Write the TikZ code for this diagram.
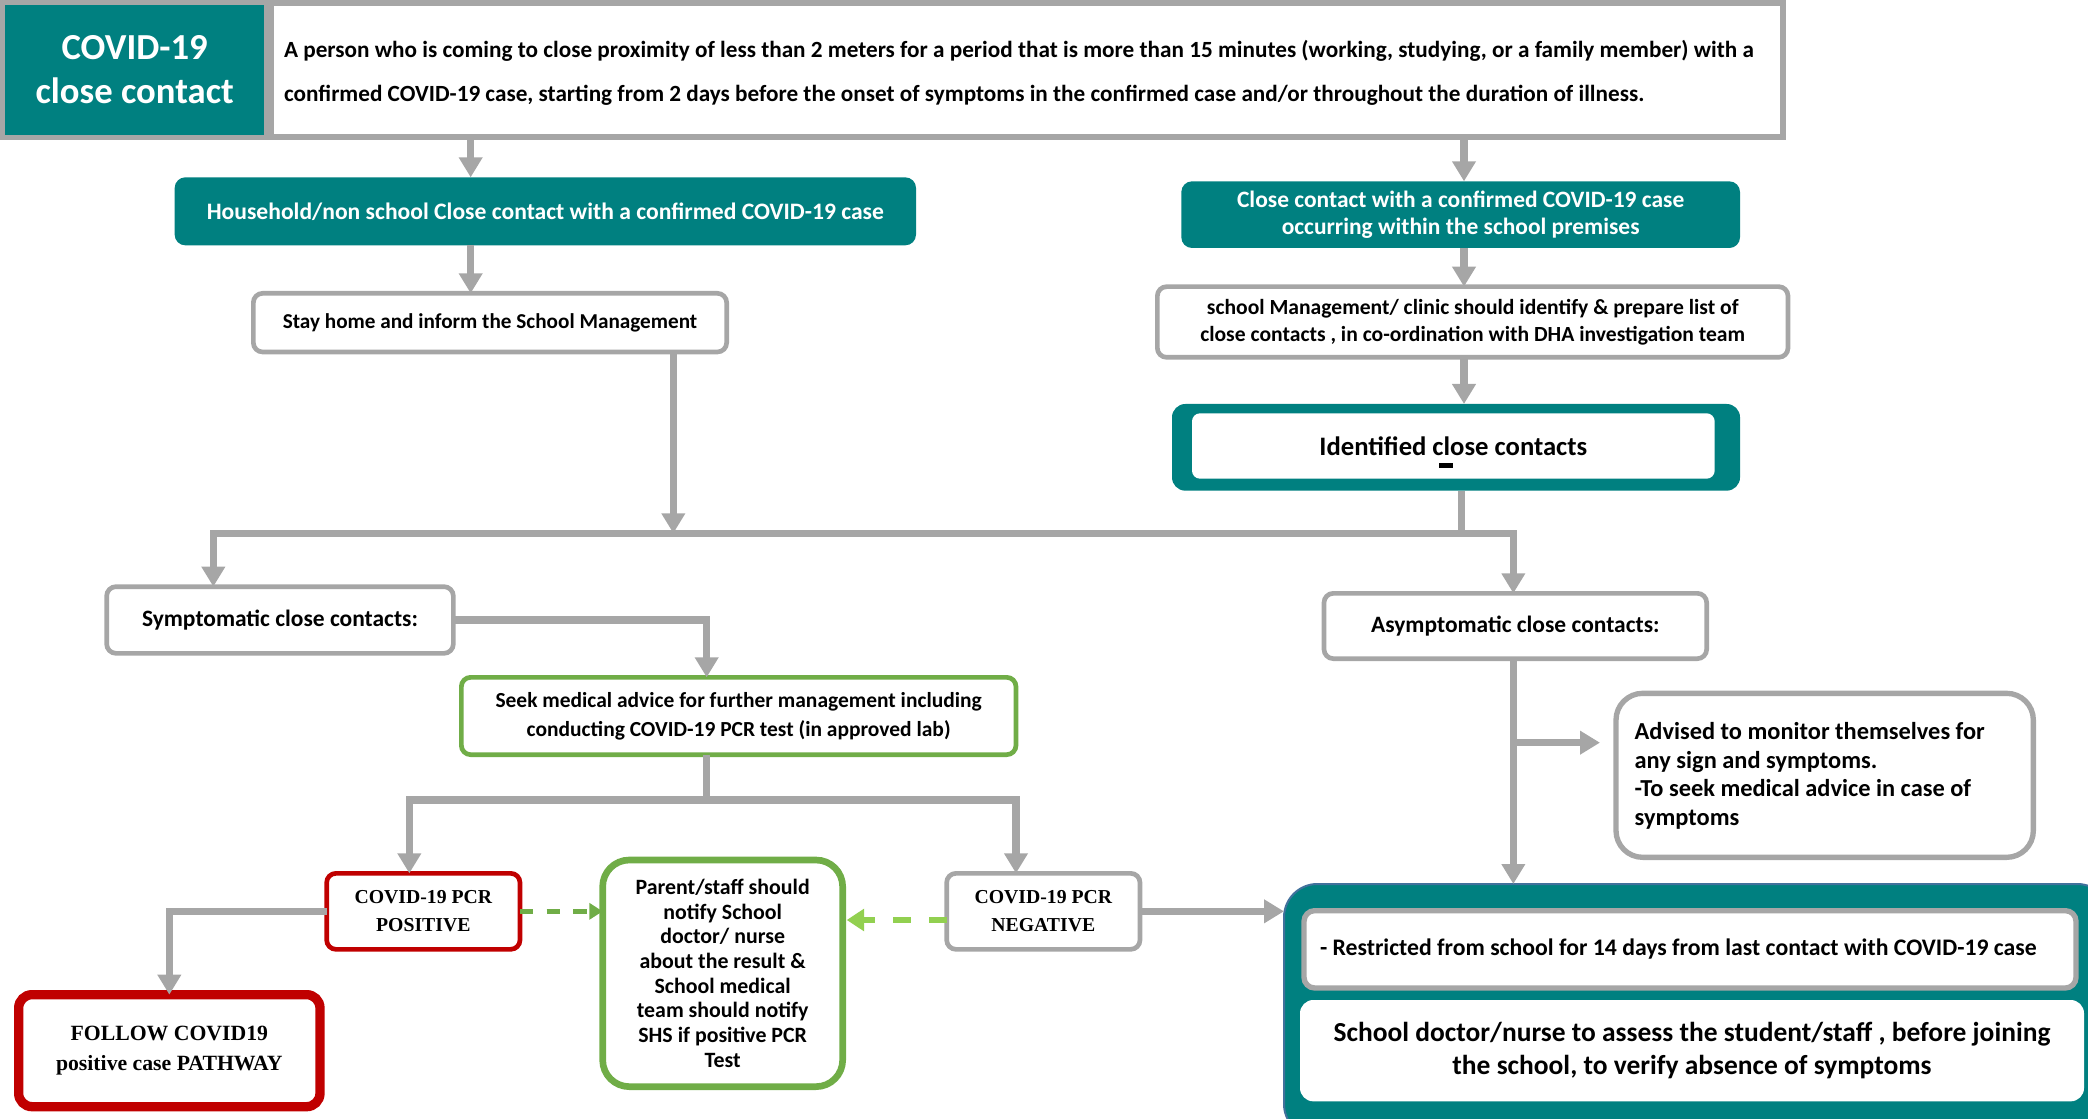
\documentclass[tikz,border=0pt]{standalone}
\usepackage{fontspec}
\setmainfont{Carlito}
\newfontfamily\tnr{Liberation Serif}
\usetikzlibrary{arrows.meta,calc}
\definecolor{tealc}{RGB}{0,128,128}
\definecolor{greyc}{RGB}{166,166,166}
\definecolor{redc}{RGB}{192,0,0}
\definecolor{greenc}{RGB}{112,173,71}
\definecolor{lgreenc}{RGB}{146,208,80}
\definecolor{bluec}{RGB}{65,113,156}
\begin{document}
\begin{tikzpicture}[x=1pt,y=-1pt,
  every node/.style={inner sep=0pt, outer sep=0pt},
  fs/.style n args={2}{font=\bfseries\fontsize{#1}{#2}\selectfont},
  tealbox/.style={fill=tealc, rounded corners=8pt, text=white, align=center},
  gbox/.style={draw=greyc, line width=3.5pt, fill=white, rounded corners=7pt, align=center},
  greenbox/.style={draw=greenc, line width=3.5pt, fill=white, rounded corners=7pt, align=center},
  redbox/.style={draw=redc, line width=3.5pt, fill=white, rounded corners=7pt, align=center},
  arr/.style={draw=greyc, line width=5.5pt, -{Triangle[width=17pt,length=15pt]}},
  dsh/.style={line width=3.8pt, dash pattern=on 10pt off 10pt}
]
\useasboundingbox (0,0) rectangle (1566,839.25);

% header
\node[fill=tealc, draw=greyc, line width=4pt, minimum width=198pt, minimum height=101pt,
  text=white, align=center, fs={27.5}{33}] (title) at (101,52.5) {COVID-19\\close contact};
\node[draw=greyc, line width=4.5pt, fill=white, minimum width=1134pt, minimum height=101pt] (def) at (770,52.5) {};
\node[anchor=west, align=left, fs={17.4}{33}] (deftext) at (213,54.5)
  {A person who is coming to close proximity of less than 2 meters for a period that is more than 15 minutes (working, studying, or a family member) with a\\
   confirmed COVID-19 case, starting from 2 days before the onset of symptoms in the confirmed case and/or throughout the duration of illness.};

% second row
\node[tealbox, minimum width=556pt, minimum height=51pt, fs={17.7}{19}] (house) at (409,158.5)
  {Household/non school Close contact with a confirmed COVID-19 case};
\node[tealbox, minimum width=419pt, minimum height=50pt, fs={17.6}{20}] (school) at (1095.5,161)
  {Close contact with a confirmed COVID-19 case\\occurring within the school premises};

\node[gbox, minimum width=355pt, minimum height=44pt, fs={15.9}{18}] (stay) at (367.5,242)
  {Stay home and inform the School Management};
\node[gbox, minimum width=473pt, minimum height=53pt, fs={16.2}{20}] (list) at (1104.5,241.5)
  {school Management/ clinic should identify \& prepare list of\\close contacts , in co-ordination with DHA investigation team};

% identified
\node[fill=tealc, rounded corners=10pt, minimum width=426pt, minimum height=65pt] (identout) at (1092,335.5) {};
\node[fill=white, rounded corners=6pt, minimum width=392pt, minimum height=49pt, fs={20}{24}] (ident) at (1090,334.5)
  {Identified close contacts};
\node[fill=black, minimum width=11pt, minimum height=4pt] (dashmark) at (1084.5,349) {};

% symptomatic branch
\node[gbox, minimum width=260pt, minimum height=50pt, fs={17.6}{18}] (sym) at (210,465)
  {Symptomatic close contacts:};
\node[greenbox, minimum width=416pt, minimum height=58pt, fs={16.1}{22}] (seek) at (554,537)
  {Seek medical advice for further management including\\conducting COVID-19 PCR test (in approved lab)};
\node[redbox, minimum width=145pt, minimum height=57pt, font=\tnr\bfseries\fontsize{14.8}{21}\selectfont] (pos) at (317.5,683.5)
  {COVID-19 PCR\\POSITIVE};
\node[draw=redc, line width=7pt, fill=white, rounded corners=10pt, minimum width=226pt, minimum height=84pt,
  align=center, font=\tnr\bfseries\fontsize{16.3}{23}\selectfont] (follow) at (127,788)
  {FOLLOW COVID19\\positive case PATHWAY};
\node[draw=greenc, line width=5pt, fill=white, rounded corners=20pt, minimum width=180pt, minimum height=170pt,
  align=center, fs={16.4}{18.5}] (parent) at (542,730)
  {Parent/staff should\\notify School\\doctor/ nurse\\about the result \&\\School medical\\team should notify\\SHS if positive PCR\\Test};
\node[gbox, minimum width=145pt, minimum height=57pt, font=\tnr\bfseries\fontsize{14.8}{21}\selectfont] (neg) at (782.5,683.5)
  {COVID-19 PCR\\NEGATIVE};

% asymptomatic branch
\node[gbox, minimum width=287pt, minimum height=49pt, fs={17.6}{18}] (asym) at (1136.5,469.5)
  {Asymptomatic close contacts:};
\node[draw=greyc, line width=4pt, fill=white, rounded corners=20pt, minimum width=313pt, minimum height=123pt] (adv) at (1368.5,581.5) {};
\node[anchor=west, align=left, fs={18.3}{21.4}] (advtext) at (1226,582)
  {Advised to monitor themselves for\\any sign and symptoms.\\-To seek medical advice in case of\\symptoms};

% big bottom-right box
\node[fill=tealc, draw=bluec, line width=1.5pt, rounded corners=25pt, minimum width=620pt, minimum height=190pt] (big) at (1273,758) {};
\node[draw=greyc, line width=4pt, fill=white, rounded corners=8pt, minimum width=579pt, minimum height=58pt] (restr) at (1267.5,712) {};
\node[anchor=west, fs={17.8}{18}] (restrtext) at (990,712)
  {- Restricted from school for 14 days from last contact with COVID-19 case};
\node[fill=white, rounded corners=10pt, minimum width=588pt, minimum height=76pt, align=center, fs={20.6}{25}] (doc) at (1269,788)
  {School doctor/nurse to assess the student/staff , before joining\\the school, to verify absence of symptoms};

% connectors
\coordinate (c1) at (353,0);
\draw[arr] (c1 |- def.south) -- (c1 |- house.north);
\draw[arr] (c1 |- house.south) -- (c1 |- stay.north);
\coordinate (c2) at (1098,0);
\draw[arr] (c2 |- def.south) -- (c2 |- school.north);
\draw[arr] (c2 |- school.south) -- (c2 |- list.north);
\draw[arr] (c2 |- list.south) -- (c2 |- identout.north);

\coordinate (j) at (1096,400);
\coordinate (jl) at (160,400);
\coordinate (jr) at (1135,400);
\draw[arr] (j |- identout.south) -- (j) -| (jr |- asym.north);
\draw[arr] (j) -| (jl |- sym.north);
\coordinate (c3) at (505,0);
\draw[arr] (c3 |- stay.south) -- (c3 |- j);

\coordinate (c4) at (530,0);
\draw[arr] (sym.east) -- (c4 |- sym.east) -- (c4 |- seek.north);
\coordinate (k) at (530,600);
\coordinate (kl) at (307,600);
\coordinate (kr) at (762,600);
\draw[arr] (c4 |- seek.south) -- (k) -| (kl |- pos.north);
\draw[arr] (k) -| (kr |- neg.north);

\coordinate (c5) at (127,0);
\draw[arr] (pos.west) -- (c5 |- pos.west) -- (c5 |- follow.north);
\draw[dsh, draw=greenc, -{Triangle[width=12pt,length=10pt,fill=greenc]}] (pos.east) -- (pos.east -| parent.west);
\coordinate (c6) at (0,690);
\draw[line width=5pt, dash pattern=on 13pt off 14pt, draw=lgreenc, -{Triangle[width=16pt,length=13pt,fill=lgreenc]}] (c6 -| neg.west) -- ([xshift=3pt]c6 -| parent.east);
\draw[arr] (neg.east) -- (neg.east -| big.west);

\coordinate (c7) at (1135,557);
\draw[arr] (jr |- asym.south) -- (jr |- big.north);
\draw[arr] (c7) -- ([xshift=-12pt]c7 -| adv.west);
\end{tikzpicture}
\end{document}
